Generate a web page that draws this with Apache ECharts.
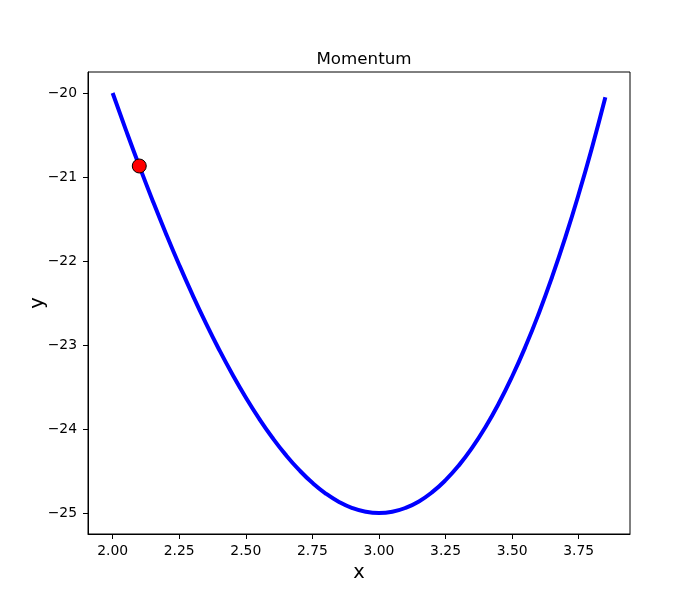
<!DOCTYPE html>
<html>
<head>
<meta charset="utf-8">
<script src="https://cdn.jsdelivr.net/npm/echarts@6/dist/echarts.min.js"></script>
<style>html,body{margin:0;padding:0;background:#fff}#c{width:700px;height:600px}</style>
</head>
<body>
<div id="c"></div>
<script>
// Curve values
const xValues = [2.00,2.05,2.10,2.15,2.20,2.25,2.30,2.35,2.40,2.45,2.50,2.55,2.60,2.65,2.70,2.75,2.80,2.85,2.90,2.95,
                 3.00,3.05,3.10,3.15,3.20,3.25,3.30,3.35,3.40,3.45,3.50,3.55,3.60,3.65,3.70,3.75,3.80,3.85];
const yValues = [-20.000,-20.442,-20.869,-21.279,-21.672,-22.047,-22.403,-22.740,-23.056,-23.351,-23.625,-23.876,-24.104,-24.308,-24.487,-24.641,-24.768,-24.868,-24.941,-24.985,
                 -25.000,-24.985,-24.939,-24.862,-24.752,-24.609,-24.433,-24.222,-23.976,-23.694,-23.375,-23.019,-22.624,-22.190,-21.717,-21.203,-20.648,-20.051];
// Highlighted point
const pointX = [2.10];
const pointY = [-20.869];
// Tick labels
const xTicks = [2.00,2.25,2.50,2.75,3.00,3.25,3.50,3.75];
const yTicks = [-25,-24,-23,-22,-21,-20];

const FONT = 'DejaVu Sans';
const curve = xValues.map((x,i)=>[x,yValues[i]]);
const pts = pointX.map((x,i)=>[x,pointY[i]]);
const fmtNum = (v,d)=> { const s = Math.abs(v).toFixed(d); return v < 0 ? '\u2212'+s : s; };

const chart = echarts.init(document.getElementById('c'), null, {renderer:'canvas'});
chart.setOption({
  animation:false,
  backgroundColor:'#fff',
  title:{text:'Momentum', left:359, textAlign:'center', top:46,
         textStyle:{fontFamily:FONT, fontSize:16.7, fontWeight:'normal', color:'#000'}},
  grid:{left:88, top:72, right:70, bottom:66, show:true, borderColor:'#000', borderWidth:1, backgroundColor:'transparent'},
  xAxis:{type:'value', min:1.9075, max:3.9425,
    name:'x', nameLocation:'middle', nameGap:29, nameMoveOverlap:false,
    nameTextStyle:{fontFamily:FONT, fontSize:19.4, color:'#000'},
    axisLine:{show:true, onZero:false, lineStyle:{color:'#000', width:1}},
    axisTick:{show:true, length:5, customValues:xTicks, lineStyle:{color:'#000'}},
    axisLabel:{customValues:xTicks, margin:10, formatter:v=>fmtNum(v,2),
      fontFamily:FONT, fontSize:13.9, color:'#000'},
    splitLine:{show:false}},
  yAxis:{type:'value', min:-25.25, max:-19.75,
    name:'y', nameLocation:'middle', nameGap:41, nameMoveOverlap:false,
    nameTextStyle:{fontFamily:FONT, fontSize:19.4, color:'#000'},
    axisLine:{show:true, onZero:false, lineStyle:{color:'#000', width:1}},
    axisTick:{show:true, length:5, customValues:yTicks, lineStyle:{color:'#000'}},
    axisLabel:{customValues:yTicks, margin:11, formatter:v=>fmtNum(v,0),
      fontFamily:FONT, fontSize:13.9, color:'#000'},
    splitLine:{show:false}},
  series:[
    {type:'line', data:curve, smooth:true, showSymbol:false, symbol:'none',
     lineStyle:{color:'#0000ff', width:4}, z:2},
    {type:'scatter', data:pts, symbol:'circle', symbolSize:14,
     itemStyle:{color:'#ff0000', opacity:1, borderColor:'#000', borderWidth:1}, z:3}
  ]
});
</script>
</body>
</html>
